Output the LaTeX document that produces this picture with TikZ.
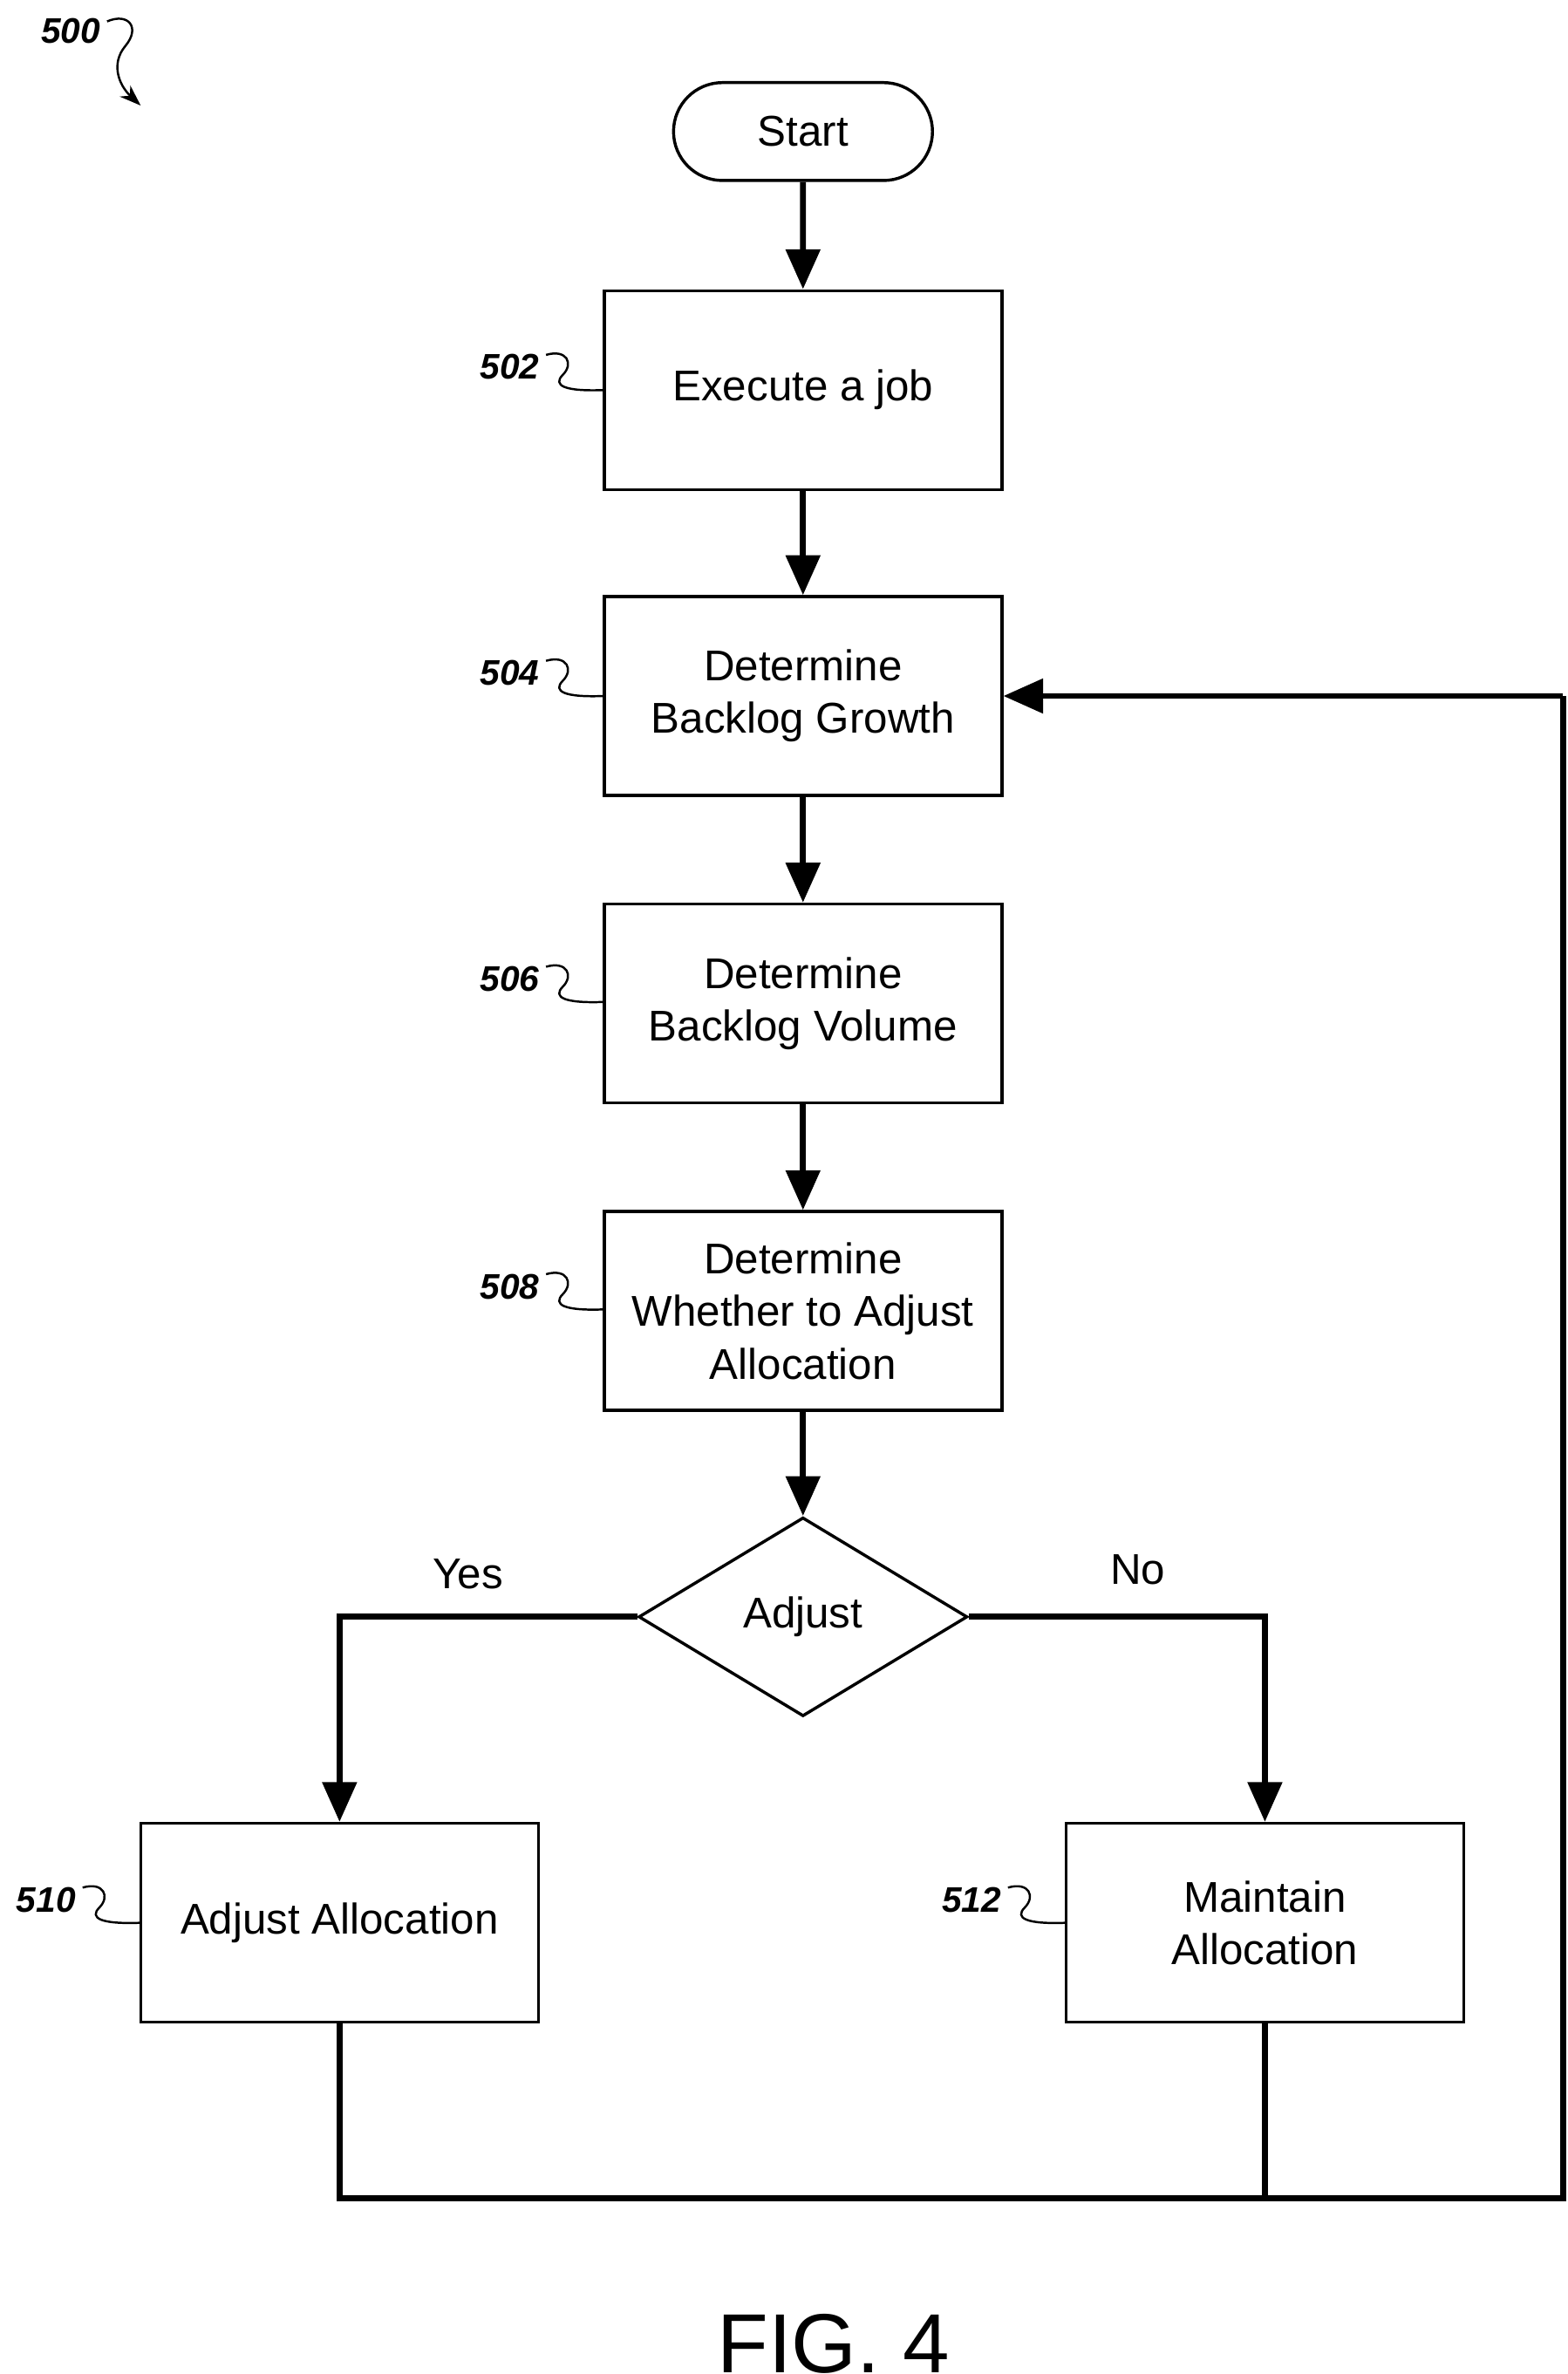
\documentclass[tikz,border=0pt]{standalone}
\usepackage{fontspec}
\setmainfont{Liberation Sans}
\usetikzlibrary{shapes.geometric,shapes.misc,arrows.meta}
\begin{document}
\begin{tikzpicture}[x=0.05cm,y=-0.05cm,
 box/.style={draw,line width=2.8pt,minimum width=13cm,minimum height=6.5cm,align=center,font=\fontsize{40}{49}\selectfont,inner sep=0pt},
 flow/.style={line width=5.5pt,-{Triangle[length=1.3cm,width=1.1cm]}},
 line/.style={line width=5.5pt},
 ref/.style={font=\fontsize{33}{36}\selectfont\bfseries\itshape,anchor=east},
 sq/.style={line width=2pt}]
\useasboundingbox (0,0) rectangle (1025,1552);
\node[draw,line width=2.8pt,rounded rectangle,minimum width=8.7cm,minimum height=3.2cm,font=\fontsize{40}{48}\selectfont] (start) at (525,86) {Start};
\node[box] (b502) at (525,255) {Execute a job};
\node[box] (b504) at (525,455) {Determine\\Backlog Growth};
\node[box] (b506) at (525,656) {Determine\\Backlog Volume};
\node[box] (b508) at (525,857) {Determine\\Whether to Adjust\\Allocation};
\node[draw,diamond,line width=2.8pt,minimum width=10.75cm,minimum height=6.5cm,inner sep=0pt,font=\fontsize{40}{48}\selectfont] (dec) at (525,1057) {Adjust};
\node[box] (b510) at (222,1257) {Adjust Allocation};
\node[box] (b512) at (827,1257) {Maintain\\Allocation};
\draw[flow] (start) -- (b502);
\draw[flow] (b502) -- (b504);
\draw[flow] (b504) -- (b506);
\draw[flow] (b506) -- (b508);
\draw[flow] (b508) -- (dec);
\draw[flow] (dec.west) -| (b510.north);
\draw[flow] (dec.east) -| (b512.north);
\coordinate (bl) at (222,1437);
\coordinate (br) at (1022,1437);
\coordinate (tr) at (1022,455);
\draw[line] (b510.south) -- (bl) -- (br) -- (tr);
\draw[flow] (tr) -- (b504.east);
\draw[line] (b512.south) -- (827,1437);
\node[font=\fontsize{40}{48}\selectfont] (yes) at (306,1029) {Yes};
\node[font=\fontsize{40}{48}\selectfont] (no) at (744,1026) {No};
\foreach \n/\x/\y/\bx in {502/355/240/395,504/355/440/395,506/355/640/395,508/355/841/395,510/52/1242/92,512/657/1242/697}{
 \node[ref] (r\n) at (\x,\y) {\n};
 \draw[sq] (\x+2,\y-8) .. controls (\x+16,\y-12) and (\x+20,\y-2) .. (\x+13,\y+5) .. controls (\x+6,\y+12) and (\x+14,\y+16) .. (\bx,\y+15);
}
\node[ref] (r500) at (68,20) {500};
\coordinate (a500) at (92,69);
\draw[sq,-{Stealth[length=0.7cm,width=0.5cm]}] (70,14) .. controls (84,8) and (92,18) .. (82,30) .. controls (72,42) and (78,56) .. (a500);
\node[font=\fontsize{78}{84}\selectfont] (fig) at (545,1532) {FIG. 4};
\end{tikzpicture}
\end{document}
